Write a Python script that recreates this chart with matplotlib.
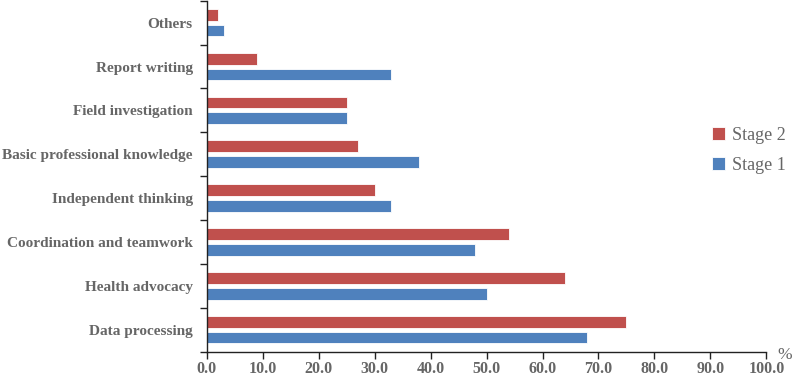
import matplotlib.pyplot as plt
import numpy as np
from matplotlib.ticker import FixedLocator

plt.rcParams["font.family"] = ["Liberation Serif", "DejaVu Serif"]

# bottom to top
categories = [
    "Data processing",
    "Health advocacy",
    "Coordination and teamwork",
    "Independent thinking",
    "Basic professional knowledge",
    "Field investigation",
    "Report writing",
    "Others",
]
stage1 = [68, 50, 48, 33, 38, 25, 33, 3]
stage2 = [75, 64, 54, 30, 27, 25, 9, 2]
x_ticks = np.arange(0, 101, 10)

TEXT = "#666666"
RED = "#C0504D"
BLUE = "#4F81BD"

fig = plt.figure(figsize=(8, 3.78), dpi=100)
ax = fig.add_axes([0.2584, 0.07, 0.6996, 0.928])

y = np.arange(len(categories))
h = 0.27
off = 0.18
ax.barh(y + off, stage2, height=h, color=RED, edgecolor="white", linewidth=0.6, label="Stage 2")
ax.barh(y - off, stage1, height=h, color=BLUE, edgecolor="white", linewidth=0.6, label="Stage 1")

ax.set_xlim(0, 100)
ax.set_ylim(-0.5, len(categories) - 0.5)
ax.set_xticks(x_ticks)
ax.set_xticklabels([f"{v:.1f}" for v in x_ticks], fontsize=11.5, fontweight="bold", color=TEXT)
ax.set_yticks(y)
ax.set_yticklabels(categories, fontsize=11, fontweight="bold", color=TEXT)
ax.yaxis.set_minor_locator(FixedLocator(np.arange(-0.5, len(categories), 1.0)))
ax.tick_params(axis="y", which="major", length=0, pad=10)
ax.tick_params(axis="y", which="minor", length=5, width=1, color="#222222", direction="out")
ax.tick_params(axis="x", length=5, width=1, color="#222222", direction="out", pad=2)

for s in ["top", "right"]:
    ax.spines[s].set_visible(False)
for s in ["left", "bottom"]:
    ax.spines[s].set_color("#222222")
    ax.spines[s].set_linewidth(1)

fig.text(0.99, 0.062, "%", fontsize=12.5, color=TEXT, ha="right", va="center")

leg = fig.legend(
    loc="center left",
    bbox_to_anchor=(0.87, 0.602),
    frameon=False,
    fontsize=13,
    handlelength=0.7,
    handleheight=0.7,
    handletextpad=0.4,
    labelspacing=0.7,
)
for t in leg.get_texts():
    t.set_color(TEXT)

fig.savefig("out.png", dpi=100, facecolor="white")
